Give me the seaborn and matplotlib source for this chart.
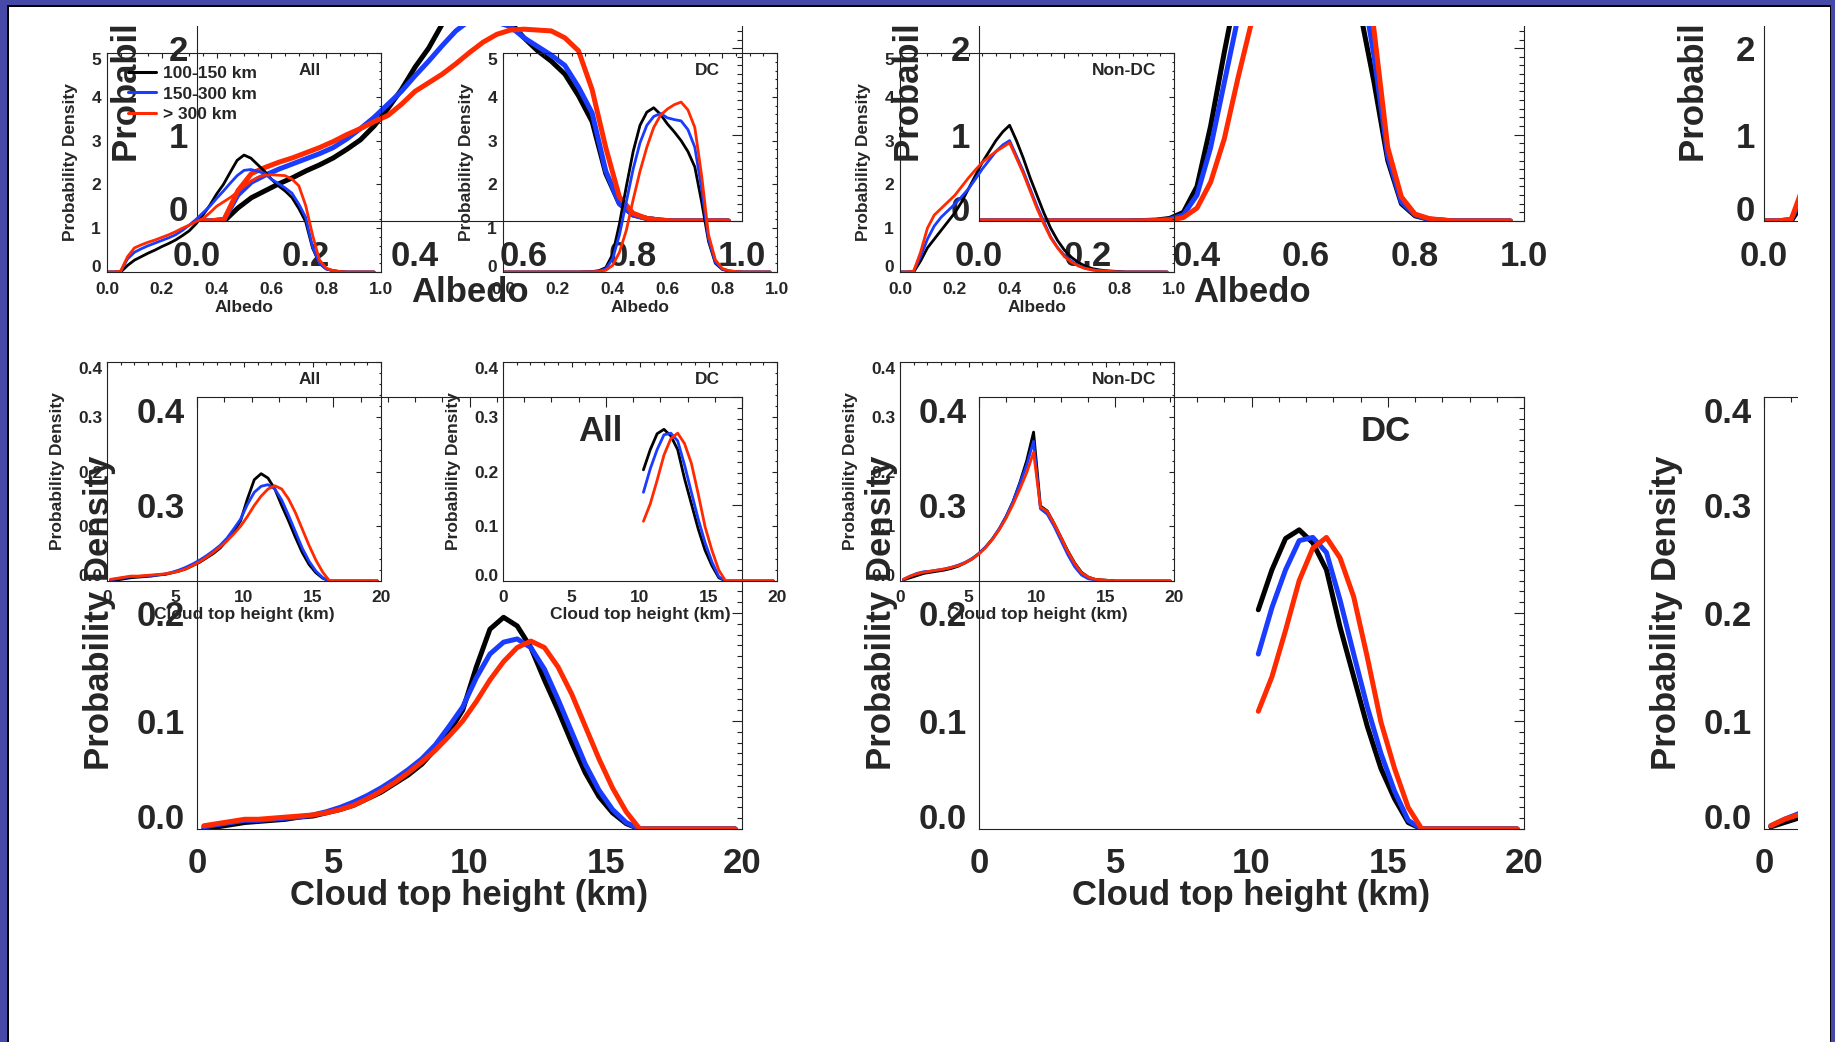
import numpy as np
import pandas as pd
import matplotlib
matplotlib.use('Agg')
import matplotlib.pyplot as plt
from matplotlib.ticker import MultipleLocator, FixedLocator, FormatStrFormatter
from matplotlib.patches import Rectangle
from matplotlib.lines import Line2D
import seaborn as sns

sns.set_style('white')
plt.rcParams['font.family'] = ['Liberation Sans', 'DejaVu Sans']
plt.rcParams['font.weight'] = 'bold'

# size classes (legend) and their colours
sizes = ['100-150 km', '150-300 km', '> 300 km']
colors = ['#000000', '#1a3cff', '#ff2a00']
panels = ['All', 'DC', 'Non-DC']

# ---- albedo PDFs ----
albedo = [0.0, 0.025, 0.05, 0.075, 0.1, 0.125, 0.15, 0.175, 0.2, 0.225,
          0.25, 0.275, 0.3, 0.325, 0.35, 0.375, 0.4, 0.425, 0.45, 0.475,
          0.5, 0.525, 0.55, 0.575, 0.6, 0.625, 0.65, 0.675, 0.7, 0.725,
          0.75, 0.775, 0.8, 0.825, 0.85, 0.875, 0.9, 0.925, 0.95, 0.975]

alb_all_black = [0, 0, 0, 0.15, 0.27, 0.35, 0.43, 0.50, 0.58, 0.65,
                 0.73, 0.83, 0.94, 1.10, 1.30, 1.52, 1.78, 2.00, 2.28, 2.55,
                 2.67, 2.60, 2.45, 2.30, 2.12, 1.97, 1.85, 1.70, 1.45, 1.15,
                 0.55, 0.20, 0.07, 0.03, 0.01, 0, 0, 0, 0, 0]
alb_all_blue = [0, 0, 0.02, 0.30, 0.45, 0.53, 0.60, 0.66, 0.72, 0.78,
                0.85, 0.95, 1.07, 1.20, 1.35, 1.50, 1.68, 1.85, 2.03, 2.20,
                2.32, 2.34, 2.30, 2.25, 2.12, 2.02, 1.92, 1.80, 1.55, 1.25,
                0.58, 0.20, 0.07, 0.03, 0.01, 0, 0, 0, 0, 0]
alb_all_red = [0, 0, 0.02, 0.35, 0.55, 0.62, 0.68, 0.73, 0.79, 0.85,
               0.92, 1.00, 1.07, 1.15, 1.22, 1.35, 1.50, 1.60, 1.70, 1.82,
               1.95, 2.07, 2.16, 2.21, 2.22, 2.21, 2.20, 2.12, 1.97, 1.52,
               0.85, 0.28, 0.09, 0.03, 0.01, 0, 0, 0, 0, 0]

alb_dc_black = [0, 0, 0, 0, 0, 0, 0, 0, 0, 0,
                0, 0, 0.005, 0.01, 0.03, 0.10, 0.40, 1.10, 1.95, 2.75,
                3.35, 3.65, 3.75, 3.60, 3.38, 3.20, 3.00, 2.75, 2.40, 1.60,
                0.70, 0.20, 0.06, 0.02, 0.01, 0, 0, 0, 0, 0]
alb_dc_blue = [0, 0, 0, 0, 0, 0, 0, 0, 0, 0,
               0, 0, 0.004, 0.008, 0.02, 0.07, 0.30, 0.85, 1.60, 2.35,
               2.95, 3.35, 3.55, 3.62, 3.52, 3.48, 3.45, 3.25, 2.85, 1.90,
               0.75, 0.22, 0.07, 0.02, 0.01, 0, 0, 0, 0, 0]
alb_dc_red = [0, 0, 0, 0, 0, 0, 0, 0, 0, 0,
              0, 0, 0.002, 0.005, 0.01, 0.04, 0.15, 0.45, 0.95, 1.65,
              2.30, 2.85, 3.30, 3.58, 3.72, 3.82, 3.88, 3.70, 3.30, 2.20,
              0.85, 0.28, 0.08, 0.03, 0.01, 0, 0, 0, 0, 0]

alb_ndc_black = [0, 0, 0, 0.25, 0.55, 0.75, 0.95, 1.15, 1.35, 1.60,
                 1.90, 2.20, 2.50, 2.75, 3.00, 3.20, 3.35, 3.00, 2.60, 2.15,
                 1.75, 1.35, 1.00, 0.72, 0.50, 0.34, 0.22, 0.14, 0.08, 0.05,
                 0.03, 0.02, 0.01, 0, 0, 0, 0, 0, 0, 0]
alb_ndc_blue = [0, 0, 0.02, 0.35, 0.75, 1.05, 1.25, 1.40, 1.55, 1.72,
                1.90, 2.12, 2.35, 2.55, 2.75, 2.90, 3.00, 2.65, 2.30, 1.90,
                1.50, 1.15, 0.80, 0.56, 0.38, 0.25, 0.15, 0.09, 0.05, 0.03,
                0.02, 0.01, 0, 0, 0, 0, 0, 0, 0, 0]
alb_ndc_red = [0, 0, 0.02, 0.45, 1.00, 1.30, 1.45, 1.60, 1.75, 1.95,
               2.15, 2.33, 2.50, 2.63, 2.75, 2.85, 2.95, 2.60, 2.25, 1.85,
               1.45, 1.10, 0.78, 0.55, 0.35, 0.23, 0.14, 0.08, 0.05, 0.03,
               0.02, 0.01, 0, 0, 0, 0, 0, 0, 0, 0]

# ---- cloud top height PDFs ----
cth = [0.25, 0.75, 1.25, 1.75, 2.25, 2.75, 3.25, 3.75, 4.25, 4.75,
       5.25, 5.75, 6.25, 6.75, 7.25, 7.75, 8.25, 8.75, 9.25, 9.75,
       10.25, 10.75, 11.25, 11.75, 12.25, 12.75, 13.25, 13.75, 14.25, 14.75,
       15.25, 15.75, 16.25, 16.75, 17.25, 17.75, 18.25, 18.75, 19.25, 19.75]
cth_dc = [10.25, 10.75, 11.25, 11.75, 12.25, 12.75, 13.25, 13.75, 14.25, 14.75,
          15.25, 15.75, 16.25, 16.75, 17.25, 17.75, 18.25, 18.75, 19.25, 19.75]

cth_all_black = [0.0, 0.002, 0.004, 0.006, 0.007, 0.008, 0.009, 0.011, 0.012, 0.015,
                 0.018, 0.022, 0.028, 0.034, 0.042, 0.050, 0.060, 0.074, 0.090, 0.110,
                 0.150, 0.185, 0.196, 0.188, 0.168, 0.138, 0.110, 0.080, 0.052, 0.030,
                 0.015, 0.005, 0, 0, 0, 0, 0, 0, 0, 0]
cth_all_blue = [0.002, 0.004, 0.006, 0.008, 0.008, 0.009, 0.010, 0.011, 0.013, 0.016,
                0.020, 0.025, 0.031, 0.038, 0.046, 0.055, 0.065, 0.078, 0.095, 0.113,
                0.140, 0.162, 0.173, 0.176, 0.168, 0.148, 0.120, 0.090, 0.060, 0.036,
                0.018, 0.006, 0, 0, 0, 0, 0, 0, 0, 0]
cth_all_red = [0.003, 0.005, 0.007, 0.009, 0.009, 0.010, 0.011, 0.012, 0.013, 0.015,
               0.018, 0.022, 0.028, 0.035, 0.043, 0.052, 0.062, 0.073, 0.086, 0.100,
               0.118, 0.138, 0.155, 0.168, 0.174, 0.168, 0.150, 0.125, 0.095, 0.065,
               0.038, 0.016, 0, 0, 0, 0, 0, 0, 0, 0]

cth_dc_black = [0.203, 0.240, 0.269, 0.277, 0.265, 0.240, 0.187, 0.141, 0.095, 0.056,
                0.028, 0.006, 0, 0, 0, 0, 0, 0, 0, 0]
cth_dc_blue = [0.162, 0.205, 0.240, 0.267, 0.270, 0.256, 0.212, 0.162, 0.113, 0.070,
               0.035, 0.008, 0, 0, 0, 0, 0, 0, 0, 0]
cth_dc_red = [0.109, 0.141, 0.184, 0.230, 0.260, 0.270, 0.251, 0.215, 0.159, 0.099,
              0.056, 0.020, 0, 0, 0, 0, 0, 0, 0, 0]

cth_ndc_black = [0.002, 0.006, 0.010, 0.014, 0.016, 0.018, 0.020, 0.023, 0.027, 0.033,
                 0.040, 0.050, 0.062, 0.077, 0.095, 0.118, 0.145, 0.180, 0.220, 0.272,
                 0.137, 0.128, 0.105, 0.080, 0.055, 0.033, 0.016, 0.007, 0.003, 0.002,
                 0.001, 0, 0, 0, 0, 0, 0, 0, 0, 0]
cth_ndc_blue = [0.003, 0.009, 0.014, 0.017, 0.018, 0.020, 0.022, 0.025, 0.029, 0.034,
                0.041, 0.050, 0.062, 0.077, 0.096, 0.118, 0.145, 0.178, 0.212, 0.255,
                0.132, 0.122, 0.100, 0.074, 0.048, 0.026, 0.011, 0.004, 0.002, 0.001,
                0, 0, 0, 0, 0, 0, 0, 0, 0, 0]
cth_ndc_red = [0.003, 0.009, 0.013, 0.016, 0.018, 0.020, 0.022, 0.025, 0.028, 0.033,
               0.040, 0.049, 0.061, 0.076, 0.094, 0.115, 0.140, 0.168, 0.198, 0.235,
               0.135, 0.127, 0.105, 0.080, 0.054, 0.032, 0.015, 0.007, 0.003, 0.002,
               0.001, 0, 0, 0, 0, 0, 0, 0, 0, 0]

alb_yticks = [0, 1, 2, 3, 4, 5]
cth_yticks = [0.0, 0.1, 0.2, 0.3, 0.4]


def make_df(x, black, blue, red):
    return pd.DataFrame({'x': list(x) * 3,
                         'pdf': list(black) + list(blue) + list(red),
                         'size': [s for s in sizes for _ in x]})


alb_data = [make_df(albedo, alb_all_black, alb_all_blue, alb_all_red),
            make_df(albedo, alb_dc_black, alb_dc_blue, alb_dc_red),
            make_df(albedo, alb_ndc_black, alb_ndc_blue, alb_ndc_red)]
cth_data = [make_df(cth, cth_all_black, cth_all_blue, cth_all_red),
            make_df(cth_dc, cth_dc_black, cth_dc_blue, cth_dc_red),
            make_df(cth, cth_ndc_black, cth_ndc_blue, cth_ndc_red)]

W, H = 1835, 1042
fig = plt.figure(figsize=(W / 100, H / 100), dpi=100)
fig.patch.set_facecolor('white')


def px_axes(left, top, width, height):
    ax = fig.add_axes([left / W, 1 - (top + height) / H, width / W, height / H])
    ax.patch.set_alpha(0)
    return ax


def setup(ax, kind, big, title):
    fs = 25 if big else 12.5
    if kind == 'alb':
        ax.set_xlim(0, 1)
        ax.set_ylim(0, 5)
        ax.xaxis.set_major_locator(MultipleLocator(0.2))
        ax.xaxis.set_minor_locator(MultipleLocator(0.05))
        ax.yaxis.set_major_locator(FixedLocator(alb_yticks))
        ax.yaxis.set_minor_locator(MultipleLocator(0.1 if big else 0.2))
        ax.xaxis.set_major_formatter(FormatStrFormatter('%.1f'))
        ax.yaxis.set_major_formatter(FormatStrFormatter('%d'))
        xlabel = 'Albedo'
        nt = len(alb_yticks)
        xpad, ypad = (13.5, 6.5) if big else (7, 4.3)
        ylab_x = -0.127 if big else -0.135
        xlab_y = -0.165 if big else -0.164
    else:
        ax.set_xlim(0, 20)
        ax.set_ylim(0, 0.4)
        ax.xaxis.set_major_locator(MultipleLocator(5))
        ax.xaxis.set_minor_locator(MultipleLocator(1))
        ax.yaxis.set_major_locator(FixedLocator(cth_yticks))
        ax.yaxis.set_minor_locator(MultipleLocator(0.01 if big else 0.02))
        ax.xaxis.set_major_formatter(FormatStrFormatter('%d'))
        ax.yaxis.set_major_formatter(FormatStrFormatter('%.1f'))
        xlabel = 'Cloud top height (km)'
        nt = len(cth_yticks)
        xpad, ypad = (13, 8.6) if big else (6.5, 3)
        ylab_x = -0.178 if big else -0.179
        xlab_y = -0.155 if big else -0.155
    L = 7.2 if big else 3.6
    ax.tick_params(which='both', direction='in', top=True, right=True,
                   labelsize=fs, width=0.8, color='#222222')
    ax.tick_params(which='major', length=L)
    ax.tick_params(which='minor', length=L / 2)
    ax.tick_params(axis='x', pad=xpad)
    ax.tick_params(axis='y', pad=ypad)
    for s in ax.spines.values():
        s.set_linewidth(0.8)
        s.set_color('#222222')
    # IDL nudges the end labels of the y axis inwards
    yt = ax.yaxis.get_major_ticks(nt)
    yt[0].label1.set_va('baseline')
    yt[-1].label1.set_va('top')
    ax.set_xlabel(xlabel, fontsize=fs, fontweight='bold')
    ax.set_ylabel('Probability Density', fontsize=fs, fontweight='bold')
    ax.xaxis.label.set_va('center')
    ax.yaxis.label.set_va('center')
    ax.xaxis.set_label_coords(0.5, xlab_y)
    ax.yaxis.set_label_coords(ylab_x, 0.5)
    ax.text(0.70, 0.92, title, transform=ax.transAxes, ha='left', va='center',
            fontsize=fs, fontweight='bold')


def draw(ax, df, lw):
    sns.lineplot(data=df, x='x', y='pdf', hue='size', hue_order=sizes,
                 palette=colors, lw=lw, ax=ax, legend=False,
                 estimator=None, sort=False)


# ---- big copy of the figure (behind) ----
big_left = [197, 979, 1764]
for j in range(3):
    ax = px_axes(big_left[j], 221 - 432, 545, 432)
    draw(ax, alb_data[j], 3.6)
    setup(ax, 'alb', True, panels[j])
    ax = px_axes(big_left[j], 397, 545, 432)
    draw(ax, cth_data[j], 3.6)
    setup(ax, 'cth', True, panels[j])

# ---- small copy of the figure (front) ----
small_left = [107, 503, 900]
for j in range(3):
    ax = px_axes(small_left[j], 53, 274, 219)
    draw(ax, alb_data[j], 2.0)
    setup(ax, 'alb', False, panels[j])
    if j == 0:
        handles = [Line2D([], [], color=c, lw=2.2) for c in colors]
        ax.legend(handles, sizes, loc='upper left', bbox_to_anchor=(0.03, 1.0),
                  frameon=False, fontsize=12.5, handlelength=1.6,
                  handletextpad=0.4, labelspacing=0.3, borderaxespad=0.35)
    ax = px_axes(small_left[j], 362, 274, 219)
    draw(ax, cth_data[j], 2.0)
    setup(ax, 'cth', False, panels[j])


# ---- slide frame ----
def fig_rect(x, y, w, h, color, z):
    fig.add_artist(Rectangle((x / W, 1 - (y + h) / H), w / W, h / H,
                             transform=fig.transFigure, color=color, lw=0, zorder=z))


purple = '#4649a8'
fig_rect(8, 6, 1822, 20, 'white', 10)      # top of the big copy is cut off
fig_rect(1798, 6, 32, H, 'white', 10)      # right edge of the big copy
fig_rect(0, 0, W, 5, purple, 11)
fig_rect(0, 0, 7, H, purple, 11)
fig_rect(1831, 0, 4, H, purple, 11)
fig_rect(7, 5, 1.5, H, 'black', 12)
fig_rect(7, 5, 1824, 1.5, 'black', 12)
fig_rect(1829.5, 5, 1.5, H, 'black', 12)

fig.savefig('out.png', dpi=100)
